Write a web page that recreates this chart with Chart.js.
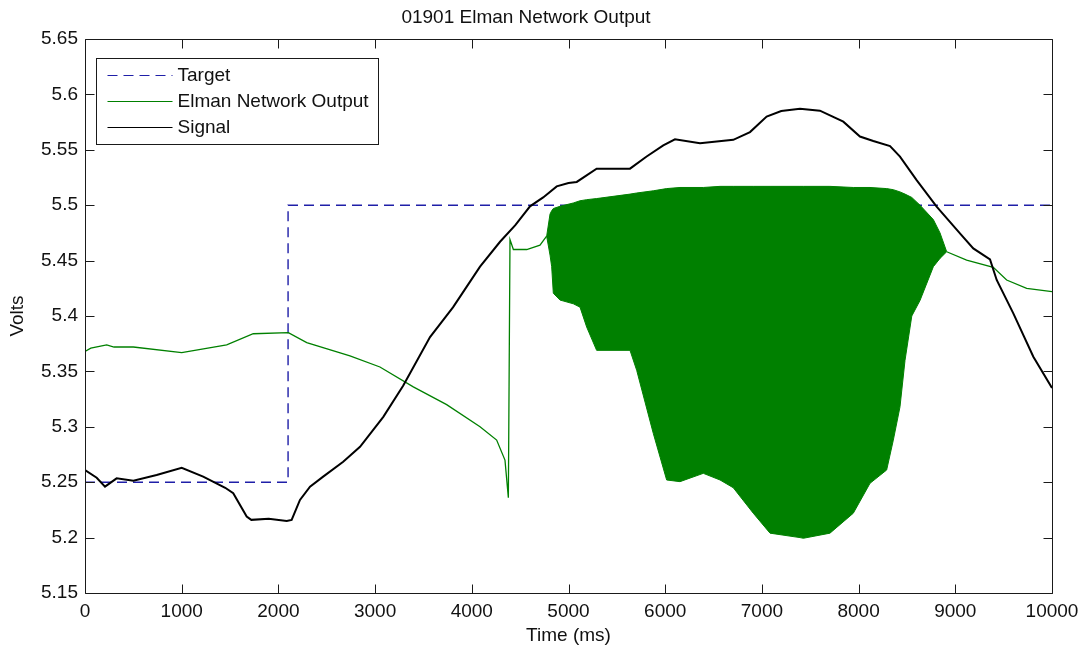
<!DOCTYPE html>
<html>
<head>
<meta charset="utf-8">
<title>01901 Elman Network Output</title>
<script src="https://cdn.jsdelivr.net/npm/chart.js@4.4.0/dist/chart.umd.min.js"></script>
<style>
  html, body { margin: 0; padding: 0; background: #fff; }
  canvas { display: block; }
</style>
</head>
<body>
<canvas id="grafik" width="1088" height="652"></canvas>
<script>
// Label sumbu
const xTicks = [0, 1000, 2000, 3000, 4000, 5000, 6000, 7000, 8000, 9000, 10000];
const yTicks = [5.15, 5.2, 5.25, 5.3, 5.35, 5.4, 5.45, 5.5, 5.55, 5.6, 5.65];

// Target (fungsi tangga)
const targetTime  = [0, 2100, 2100, 10000];
const targetVolts = [5.25, 5.25, 5.5, 5.5];

// Signal
const signalTime = [0, 121, 207, 327, 500, 741, 1000, 1222, 1450, 1533, 1672, 1720, 1900, 2086, 2137,
  2223, 2327, 2463, 2670, 2844, 3085, 3290, 3568, 3807, 4085, 4292, 4450, 4602, 4738, 4878, 5000,
  5085, 5291, 5636, 5808, 5980, 6101, 6360, 6704, 6877, 7049, 7200, 7394, 7600, 7842, 8014, 8152,
  8325, 8428, 8600, 8807, 9048, 9186, 9359, 9428, 9600, 9807, 10000];
const signalVolts = [5.261, 5.254, 5.246, 5.2535, 5.2514, 5.2565, 5.263, 5.255, 5.245, 5.240, 5.219, 5.216, 5.217, 5.215, 5.216,
  5.234, 5.246, 5.255, 5.2685, 5.282, 5.309, 5.337, 5.381, 5.408, 5.4445, 5.467, 5.482, 5.499, 5.507, 5.517, 5.520,
  5.521, 5.533, 5.533, 5.544, 5.554, 5.5595, 5.556, 5.559, 5.566, 5.580, 5.585, 5.587, 5.5853, 5.5754, 5.562, 5.558,
  5.5534, 5.5438, 5.5227, 5.4987, 5.4746, 5.461, 5.451, 5.4325, 5.4024, 5.3633, 5.335];

// Elman output: bagian garis sebelum osilasi
const elmanTime1  = [0, 60, 224, 300, 500, 1000, 1465, 1740, 2103, 2293, 2740, 3050, 3395, 3740, 4085,
  4257, 4343, 4378, 4395, 4430, 4568, 4705, 4774];
const elmanVolts1 = [5.368, 5.371, 5.374, 5.372, 5.372, 5.367, 5.374, 5.384, 5.385, 5.376, 5.364, 5.354, 5.336, 5.320, 5.300,
  5.288, 5.270, 5.236, 5.469, 5.460, 5.460, 5.464, 5.472];

// Elman output: bagian garis sesudah osilasi
const elmanTime2  = [8911, 9117, 9393, 9531, 9738, 10000];
const elmanVolts2 = [5.458, 5.4505, 5.444, 5.4325, 5.425, 5.422];

// Elman output: selubung osilasi (atas dan bawah)
const bandTime  = [4774, 4809, 4826, 4843, 4912, 5050, 5119, 5188, 5291, 5636, 5705, 5877, 6015, 6153, 6394,
  6567, 6704, 6911, 7084, 7394, 7429, 7704, 7945, 8118, 8290, 8359, 8428, 8480, 8550, 8635, 8773, 8842, 8911];
const bandUpper = [5.472, 5.492, 5.495, 5.497, 5.499, 5.502, 5.504, 5.505, 5.506, 5.510, 5.511, 5.513, 5.515, 5.516, 5.516,
  5.517, 5.517, 5.517, 5.517, 5.517, 5.517, 5.517, 5.516, 5.516, 5.515, 5.514, 5.512, 5.510, 5.507, 5.500, 5.487, 5.475, 5.458];
const bandLower = [5.472, 5.455, 5.4445, 5.4205, 5.4144, 5.411, 5.408, 5.390, 5.369, 5.369, 5.351, 5.294, 5.252, 5.2505, 5.258,
  5.252, 5.245, 5.222, 5.204, 5.200, 5.1994, 5.204, 5.222, 5.249, 5.261, 5.288, 5.318, 5.360, 5.400, 5.414, 5.4445, 5.452, 5.458];

const HIJAU = '#008000';
const BIRU = '#1f1fa8';
const FONT = 'Liberation Sans, Arial, Helvetica, sans-serif';

function toPoints(t, v) {
  return t.map((x, i) => ({ x: x, y: v[i] }));
}

// Kotak sumbu dan tick ke dalam ala MATLAB
const bingkai = {
  id: 'bingkai',
  afterDatasetsDraw(chart) {
    const { ctx, chartArea: a, scales: { x, y } } = chart;
    const len = 9;
    ctx.save();
    ctx.strokeStyle = '#1a1a1a';
    ctx.lineWidth = 1;
    ctx.beginPath();
    const L = Math.round(a.left) + 0.5, R = Math.round(a.right) + 0.5;
    const T = Math.round(a.top) + 0.5, B = Math.round(a.bottom) + 0.5;
    ctx.rect(L, T, R - L, B - T);
    xTicks.forEach(v => {
      const px = Math.round(x.getPixelForValue(v)) + 0.5;
      ctx.moveTo(px, B); ctx.lineTo(px, B - len);
      ctx.moveTo(px, T); ctx.lineTo(px, T + len);
    });
    yTicks.forEach(v => {
      const py = Math.round(y.getPixelForValue(v)) + 0.5;
      ctx.moveTo(L, py); ctx.lineTo(L + len, py);
      ctx.moveTo(R, py); ctx.lineTo(R - len, py);
    });
    ctx.stroke();
    ctx.restore();
  }
};

// Legenda di dalam area plot (urutan: Target, Elman, Signal)
const legenda = {
  id: 'legenda',
  afterDraw(chart) {
    const { ctx, chartArea: a } = chart;
    const items = chart.data.datasets.filter(d => d.legend).sort((p, q) => q.order - p.order);
    const bx = Math.round(a.left) + 11.5, by = Math.round(a.top) + 19.5;
    const bw = 282, bh = 86;
    ctx.save();
    ctx.fillStyle = '#fff';
    ctx.fillRect(bx, by, bw, bh);
    ctx.strokeStyle = '#1a1a1a';
    ctx.lineWidth = 1;
    ctx.strokeRect(bx, by, bw, bh);
    ctx.font = '19px ' + FONT;
    ctx.textBaseline = 'middle';
    items.forEach((d, i) => {
      const cy = Math.round(by + 16 + i * 26) + 0.5;
      ctx.beginPath();
      ctx.setLineDash(d.borderDash || []);
      ctx.strokeStyle = d.borderColor;
      ctx.lineWidth = 1.2;
      ctx.moveTo(bx + 11, cy);
      ctx.lineTo(bx + 76, cy);
      ctx.stroke();
      ctx.setLineDash([]);
      ctx.fillStyle = '#111';
      ctx.fillText(d.label, bx + 81, cy);
    });
    ctx.restore();
  }
};

new Chart(document.getElementById('grafik'), {
  type: 'line',
  data: {
    datasets: [
      {
        label: 'Signal', legend: true, order: 1,
        data: toPoints(signalTime, signalVolts),
        borderColor: '#000', borderWidth: 2
      },
      {
        label: 'Elman Network Output', legend: true, order: 2,
        data: toPoints(elmanTime1, elmanVolts1),
        borderColor: HIJAU, borderWidth: 1.3
      },
      {
        label: 'Elman Network Output (ekor)', order: 2,
        data: toPoints(elmanTime2, elmanVolts2),
        borderColor: HIJAU, borderWidth: 1.3
      },
      {
        label: 'Selubung atas', order: 2,
        data: toPoints(bandTime, bandUpper),
        borderColor: HIJAU, borderWidth: 1
      },
      {
        label: 'Selubung bawah', order: 2,
        data: toPoints(bandTime, bandLower),
        borderColor: HIJAU, borderWidth: 1,
        backgroundColor: HIJAU, fill: '-1'
      },
      {
        label: 'Target', legend: true, order: 3,
        data: toPoints(targetTime, targetVolts),
        borderColor: BIRU, borderWidth: 1.4, borderDash: [10, 6]
      }
    ]
  },
  options: {
    responsive: false,
    animation: false,
    elements: { point: { radius: 0 }, line: { tension: 0, fill: false } },
    layout: { padding: { left: 0, right: 36, top: 0, bottom: 0 } },
    plugins: {
      legend: { display: false },
      tooltip: { enabled: false },
      title: {
        display: true,
        text: '01901 Elman Network Output',
        color: '#111',
        font: { family: FONT, size: 19, weight: 'normal', lineHeight: 1.2 },
        padding: { top: 6, bottom: 10.2 }
      }
    },
    scales: {
      x: {
        type: 'linear', min: 0, max: 10000,
        afterBuildTicks: s => { s.ticks = xTicks.map(v => ({ value: v })); },
        afterFit: s => { s.height = 59; },
        grid: { display: false, drawTicks: false },
        border: { display: false },
        ticks: {
          autoSkip: false, maxRotation: 0, padding: 7.5, color: '#111',
          font: { family: FONT, size: 19 },
          callback: v => String(v)
        },
        title: {
          display: true, text: 'Time (ms)', color: '#111',
          font: { family: FONT, size: 19, lineHeight: 1.2 },
          padding: { top: 0, bottom: 5 }
        }
      },
      y: {
        type: 'linear', min: 5.15, max: 5.65,
        afterBuildTicks: s => { s.ticks = yTicks.map(v => ({ value: v })); },
        afterFit: s => { s.width = 85; },
        grid: { display: false, drawTicks: false },
        border: { display: false },
        ticks: {
          autoSkip: false, padding: 7, color: '#111',
          font: { family: FONT, size: 19 },
          callback: v => String(+v.toFixed(2))
        },
        title: {
          display: true, text: 'Volts', color: '#111',
          font: { family: FONT, size: 19, lineHeight: 1.2 },
          padding: { top: 6.6, bottom: 0 }
        }
      }
    }
  },
  plugins: [bingkai, legenda]
});
</script>
</body>
</html>
